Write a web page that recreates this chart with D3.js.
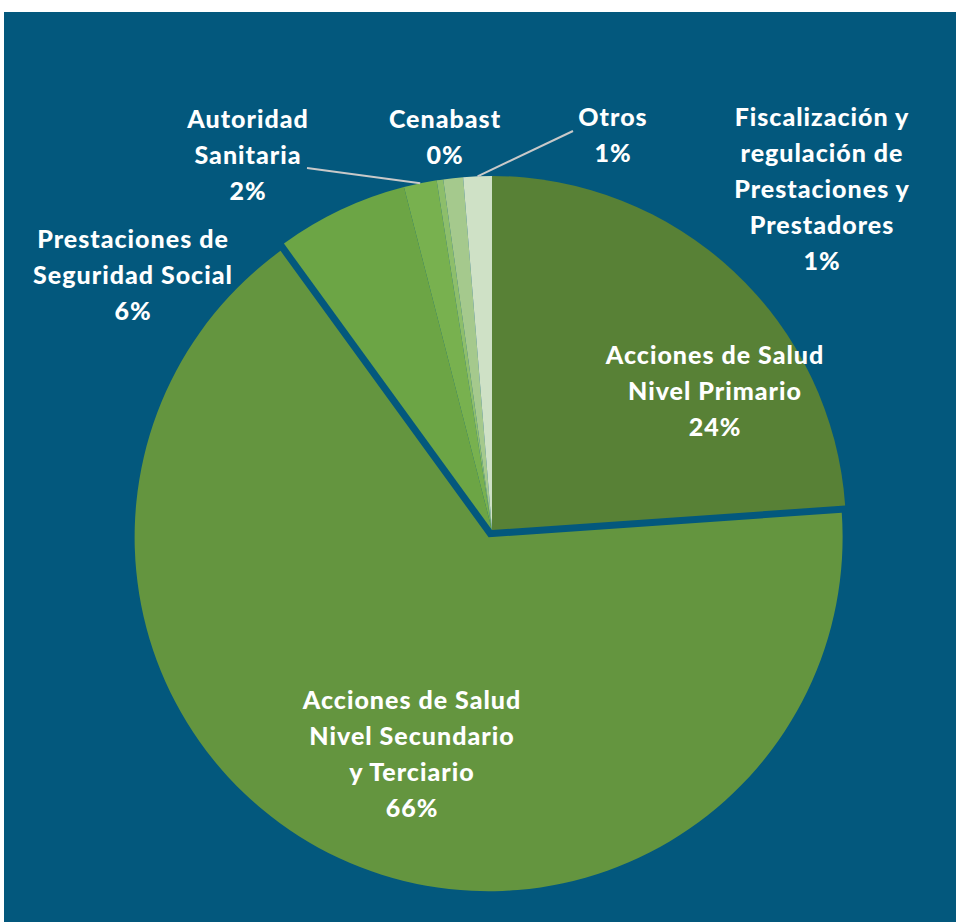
<!DOCTYPE html>
<html>
<head>
<meta charset="utf-8">
<script src="https://cdn.jsdelivr.net/npm/d3@7"></script>
<style>
  body { margin: 0; background: #ffffff; }
  text { font-family: Lato, "Open Sans", sans-serif; font-weight: 900; fill: #ffffff; }
</style>
</head>
<body>
<div id="chart"></div>
<script>
// data (percent of total)
var categories = ["Acciones de Salud Nivel Primario", "Acciones de Salud Nivel Secundario y Terciario",
                  "Prestaciones de Seguridad Social", "Autoridad Sanitaria", "Cenabast",
                  "Fiscalización y regulación de Prestaciones y Prestadores", "Otros"]
var values = [23.9, 66.1, 6.0, 1.5, 0.3, 0.9, 1.3]
var colors = ["#588136", "#64953f", "#6ca545", "#78b14f", "#8dbe6b", "#a5c98d", "#cfe1c6"]

// label text broken into lines
var labelLines = [
  ["Acciones de Salud", "Nivel Primario"],
  ["Acciones de Salud", "Nivel Secundario", "y Terciario"],
  ["Prestaciones de", "Seguridad Social"],
  ["Autoridad", "Sanitaria"],
  ["Cenabast"],
  ["Fiscalización y", "regulación de", "Prestaciones y", "Prestadores"],
  ["Otros"]
]

// layout
var width = 956, height = 922
var cx = 492, cy = 530, radius = 354
var explode = [0, 8, 0, 0, 0, 0, 0]
var labelPos = [[715, 364], [412, 709], [133, 248], [248, 128], [445, 128], [822, 126], [613, 126]]
var leader = {3: [307, 168], 6: [573, 131]}
var lineH = 36

var svg = d3.select("#chart")
  .append("svg")
    .attr("width", width)
    .attr("height", height)

// blue background panel
svg.append("rect")
    .attr("x", 4)
    .attr("y", 12)
    .attr("width", width - 4)
    .attr("height", height - 12)
    .style("fill", "#03587d")

var pie = d3.pie().sort(null).value(function(d) { return d })
var arcs = pie(values)
var arc = d3.arc().innerRadius(0).outerRadius(radius)

var g = svg.append("g")
    .attr("transform", "translate(" + cx + "," + cy + ")")

g.selectAll("path")
  .data(arcs)
  .enter()
  .append("path")
    .attr("d", arc)
    .attr("transform", function(d, i) {
      var a = (d.startAngle + d.endAngle) / 2
      return "translate(" + (Math.sin(a) * explode[i]) + "," + (-Math.cos(a) * explode[i]) + ")"
    })
    .style("fill", function(d, i) { return colors[i] })

// leader lines to the small slices
Object.keys(leader).forEach(function(k) {
  var d = arcs[k]
  var a = (d.startAngle + d.endAngle) / 2
  svg.append("line")
      .attr("x1", leader[k][0])
      .attr("y1", leader[k][1])
      .attr("x2", cx + Math.sin(a) * radius)
      .attr("y2", cy - Math.cos(a) * radius)
      .style("stroke", "#c9c9c9")
      .style("stroke-width", 2)
})

// labels
var labels = svg.selectAll(".lbl")
  .data(arcs)
  .enter()
  .append("text")
    .attr("class", "lbl")
    .attr("text-anchor", "middle")
    .style("font-size", "25px")
    .style("letter-spacing", "1px")

labels.each(function(d, i) {
  var t = d3.select(this)
  var lines = labelLines[i].concat([Math.round(values[i]) + "%"])
  lines.forEach(function(s, j) {
    t.append("tspan")
      .attr("x", labelPos[i][0])
      .attr("y", labelPos[i][1] + j * lineH)
      .text(s)
  })
})
</script>
</body>
</html>
